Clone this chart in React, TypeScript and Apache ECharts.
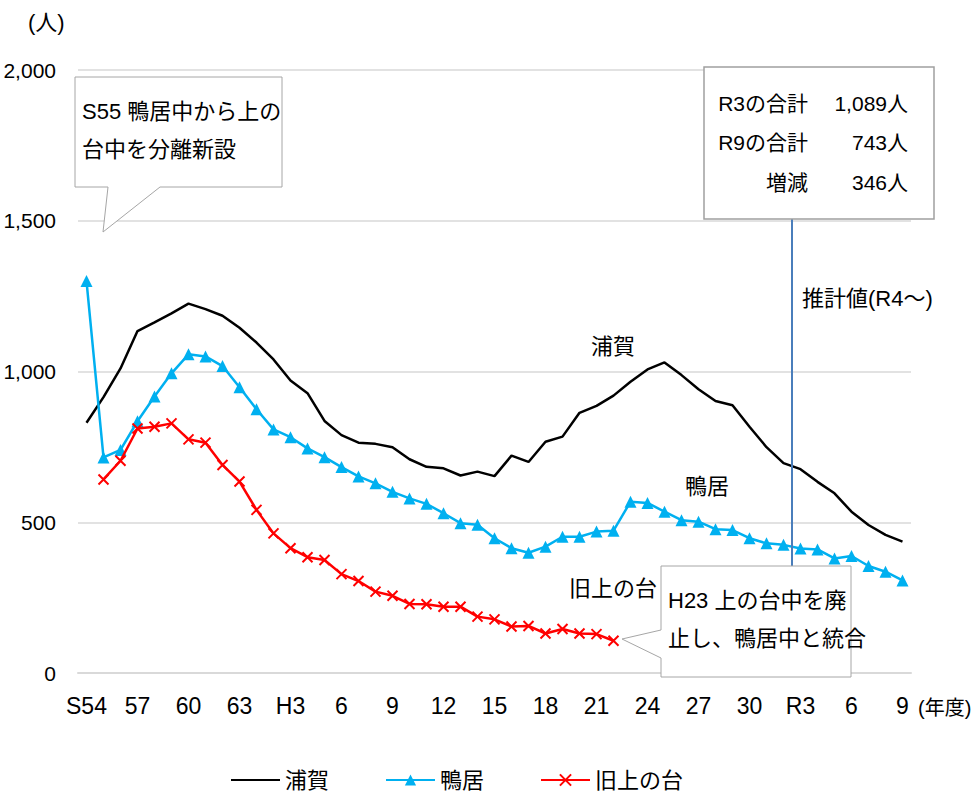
import React, { useEffect, useRef } from "react";
import * as echarts from "echarts";

const categories = [
  "S54", "S55", "S56", "S57", "S58", "S59", "S60", "S61", "S62", "S63",
  "H1", "H2", "H3", "H4", "H5", "H6", "H7", "H8", "H9", "H10",
  "H11", "H12", "H13", "H14", "H15", "H16", "H17", "H18", "H19", "H20",
  "H21", "H22", "H23", "H24", "H25", "H26", "H27", "H28", "H29", "H30",
  "R1", "R2", "R3", "R4", "R5", "R6", "R7", "R8", "R9",
];

const tickLabels = ["S54", "57", "60", "63", "H3", "6", "9", "12", "15", "18", "21", "24", "27", "30", "R3", "6", "9"];

const uraga = [
  830, 915, 1010, 1134, 1163, 1193, 1225, 1207, 1185, 1145,
  1096, 1040, 970, 928, 836, 789, 764, 760, 749, 709,
  684, 679, 655, 668, 653, 721, 700, 767, 784, 863,
  886, 920, 966, 1007, 1030, 988, 941, 902, 888, 817,
  749, 696, 676, 634, 596, 535, 491, 458, 436,
];

const kamoi = [
  1300, 715, 740, 835, 917, 994, 1057, 1050, 1018, 948,
  875, 808, 782, 745, 716, 683, 652, 629, 601, 579,
  561, 530, 497, 492, 447, 414, 399, 419, 452, 452,
  469, 472, 568, 564, 535, 507, 502, 477, 474, 447,
  430, 425, 413, 410, 380, 388, 355, 336, 307,
];

const kyuUenodai = [
  null, 642, 704, 811, 817, 828, 775, 764, 690, 635,
  541, 463, 414, 384, 375, 328, 305, 270, 256, 229,
  228, 220, 220, 187, 178, 154, 156, 131, 146, 131,
  129, 107, null, null, null, null, null, null, null, null,
  null, null, null, null, null, null, null, null, null,
];

const summaryRows = [
  ["R3の合計", "1,089人"],
  ["R9の合計", "743人"],
  ["増減", "346人"],
];

const FONT = "'Liberation Sans', 'Noto Sans CJK JP', sans-serif";

export default function App() {
  const ref = useRef<HTMLDivElement>(null);

  useEffect(() => {
    document.body.style.margin = "0";
    if (!ref.current) return;
    const chart = echarts.init(ref.current, null, { renderer: "svg" });

    const option: any = {
      animation: false,
      backgroundColor: "#ffffff",
      textStyle: { fontFamily: FONT },
      grid: { left: 78, right: 69, top: 70, bottom: 125, containLabel: false },
      legend: {
        left: 225,
        top: 764,
        itemWidth: 49,
        itemHeight: 14,
        itemGap: 56,
        textStyle: { fontSize: 22, color: "#000", fontFamily: FONT },
        data: [
          { name: "浦賀", itemStyle: { color: "rgba(0,0,0,0)", borderWidth: 0 } },
          { name: "鴨居" },
          { name: "旧上の台" },
        ],
      },
      xAxis: {
        type: "category",
        data: categories,
        boundaryGap: true,
        axisLine: { lineStyle: { color: "#d9d9d9", width: 2 } },
        axisTick: { inside: true, length: 8, interval: 2, lineStyle: { color: "#d9d9d9", width: 1.5 } },
        axisLabel: {
          interval: 2,
          margin: 21,
          fontSize: 23,
          color: "#000",
          fontFamily: FONT,
          formatter: (_v: string, idx: number) => tickLabels[Math.round(idx / 3)] ?? "",
        },
        splitLine: { show: false },
      },
      yAxis: {
        type: "value",
        min: 0,
        max: 2000,
        interval: 500,
        axisLine: { show: false },
        axisTick: { show: false },
        axisLabel: {
          margin: 22,
          fontSize: 21,
          color: "#000",
          fontFamily: FONT,
          formatter: (v: number) => v.toLocaleString("en-US"),
        },
        splitLine: { lineStyle: { color: "#d9d9d9", width: 1.5 } },
      },
      series: [
        {
          name: "浦賀",
          type: "line",
          data: uraga,
          symbol: "none",
          lineStyle: { color: "#000000", width: 2.5 },
          itemStyle: { color: "#000000" },
          z: 3,
        },
        {
          name: "鴨居",
          type: "line",
          data: kamoi,
          symbol: "triangle",
          symbolSize: 12,
          showAllSymbol: true,
          lineStyle: { color: "#00b0f0", width: 2.5 },
          itemStyle: { color: "#00b0f0" },
          z: 4,
        },
        {
          name: "旧上の台",
          type: "line",
          data: kyuUenodai,
          symbol: "path://M0,0L10,10M10,0L0,10",
          symbolSize: 10,
          showAllSymbol: true,
          lineStyle: { color: "#ff0000", width: 2.5 },
          itemStyle: { color: "#ff0000", borderColor: "#ff0000", borderWidth: 2 },
          z: 5,
        },
      ],
    };

    chart.setOption(option);

    const xA = chart.convertToPixel({ xAxisIndex: 0 }, categories[41]) as number;
    const xB = chart.convertToPixel({ xAxisIndex: 0 }, categories[42]) as number;
    const xDiv = (xA + xB) / 2;

    const txt = (text: string, x: number, y: number, size: number, align = "left") => ({
      type: "text",
      z: 102,
      style: {
        text,
        x,
        y,
        fill: "#000",
        fontSize: size,
        fontFamily: FONT,
        textAlign: align,
        textVerticalAlign: "middle",
      },
    });

    const graphic: any[] = [
      {
        type: "line",
        z: 99,
        shape: { x1: xDiv, y1: 219, x2: xDiv, y2: 566 },
        style: { stroke: "#4a7ebb", lineWidth: 2 },
      },
      {
        type: "polygon",
        z: 100,
        shape: {
          points: [[75, 77], [282, 77], [282, 187], [160, 187], [103, 232], [108, 187], [75, 187]],
        },
        style: { fill: "#ffffff", stroke: "#a6a6a6", lineWidth: 1 },
      },
      txt("S55 鴨居中から上の", 82, 111, 22),
      txt("台中を分離新設", 82, 149, 22),
      {
        type: "rect",
        z: 100,
        shape: { x: 704, y: 67, width: 230, height: 152 },
        style: { fill: "#ffffff", stroke: "#a0a0a0", lineWidth: 1.5 },
      },
      ...summaryRows.flatMap((r, i) => [
        txt(r[0], 808, 103 + i * 39.5, 21, "right"),
        txt(r[1], 908, 103 + i * 39.5, 21, "right"),
      ]),
      txt("推計値(R4～)", 802, 298, 22),
      txt("浦賀", 591, 346, 22),
      txt("鴨居", 685, 486, 22),
      txt("旧上の台", 569, 588, 22),
      {
        type: "polygon",
        z: 100,
        shape: {
          points: [[661, 566], [851, 566], [851, 677], [661, 677], [661, 658], [622, 639], [661, 630]],
        },
        style: { fill: "#ffffff", stroke: "#a6a6a6", lineWidth: 1 },
      },
      txt("H23 上の台中を廃", 668, 600, 22),
      txt("止し、鴨居中と統合", 668, 638, 22),
      txt("(人)", 28, 22, 22),
      txt("(年度)", 918, 708, 20),
    ];

    chart.setOption({ graphic });

    return () => {
      chart.dispose();
    };
  }, []);

  return <div ref={ref} style={{ width: 980, height: 798 }} />;
}
